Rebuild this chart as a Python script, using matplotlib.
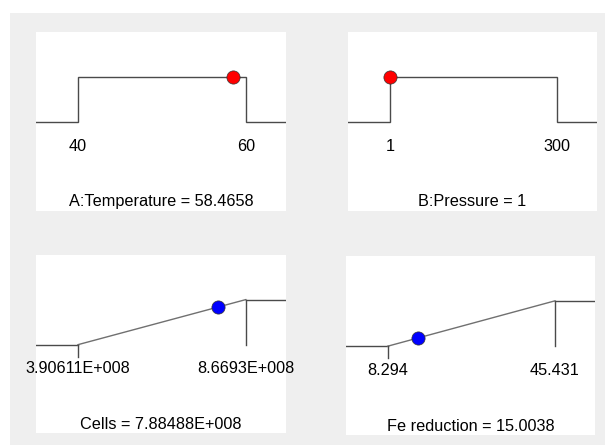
import matplotlib
matplotlib.use("Agg")
import matplotlib.pyplot as plt
import matplotlib.transforms as mtransforms
from matplotlib.patches import Rectangle

# factor / response settings
names = ['A:Temperature', 'B:Pressure', 'Cells', 'Fe reduction']
goals = ['range', 'range', 'maximize', 'maximize']
lows = [40, 1, 3.90611e8, 8.294]
highs = [60, 300, 8.6693e8, 45.431]
values = [58.4658, 1, 7.88488e8, 15.0038]
low_labels = ['40', '1', '3.90611E+008', '8.294']
high_labels = ['60', '300', '8.6693E+008', '45.431']
value_labels = ['58.4658', '1', '7.88488E+008', '15.0038']
dot_colors = ['red', 'red', 'blue', 'blue']

W, H = 605, 445
plt.rcParams['font.family'] = ['Liberation Sans', 'DejaVu Sans']

fig = plt.figure(figsize=(W / 100, H / 100), dpi=100, facecolor='white')
fig.patches.append(Rectangle((10 / W, 0), (W - 10) / W, (H - 13) / H,
                             transform=fig.transFigure, facecolor='#efefef',
                             edgecolor='none', zorder=-10))

# panel boxes in pixels: left, top, right, bottom; then baselines for labels
boxes = [(36, 32, 286, 211), (348, 32, 597, 211),
         (36, 255, 286, 433), (346, 256, 595, 435)]
label_base = [151, 151, 373, 375]
title_base = [206, 206, 429, 431]

LINE = '#4a4a4a'
for i in range(4):
    l, t, r, b = boxes[i]
    ax = fig.add_axes([l / W, 1 - b / H, (r - l) / W, (b - t) / H])
    ax.set_facecolor('white')
    for s in ax.spines.values():
        s.set_visible(False)
    ax.set_xticks([])
    ax.set_yticks([])

    lo, hi, v = lows[i], highs[i], values[i]
    span = hi - lo
    x0, x1 = lo - 0.25 * span, hi + 0.24 * span
    ax.set_xlim(x0, x1)
    ax.set_ylim(-1.96, 1.99)

    if goals[i] == 'range':
        xs = [x0, lo, lo, hi, hi, x1]
        ys = [0, 0, 1, 1, 0, 0]
        d = 1.0 if lo <= v <= hi else 0.0
        ax.plot(xs, ys, color=LINE, lw=1.0, solid_joinstyle='miter')
    else:
        ax.plot([x0, lo], [0, 0], color=LINE, lw=1.0)
        ax.plot([lo, hi], [0, 1], color='#707070', lw=1.0)
        ax.plot([hi, x1], [1, 1], color=LINE, lw=1.0)
        ax.plot([lo, lo], [0, -0.27], color=LINE, lw=1.0)
        ax.plot([hi, hi], [1, 0], color=LINE, lw=1.0)
        d = (v - lo) / (hi - lo)
    ax.plot([v], [d], 'o', ms=9.5, color=dot_colors[i], mec='#333333',
            mew=0.5, zorder=5, clip_on=False)

    tr = mtransforms.blended_transform_factory(ax.transData, fig.transFigure)
    ax.text(lo, 1 - label_base[i] / H, low_labels[i], transform=tr,
            ha='center', va='baseline', fontsize=11.7)
    ax.text(hi, 1 - label_base[i] / H, high_labels[i], transform=tr,
            ha='center', va='baseline', fontsize=11.7)
    tr2 = mtransforms.blended_transform_factory(ax.transAxes, fig.transFigure)
    ax.text(0.5, 1 - title_base[i] / H, f'{names[i]} = {value_labels[i]}',
            transform=tr2, ha='center', va='baseline', fontsize=11.7)

fig.savefig('out.png', dpi=100, facecolor=fig.get_facecolor())
